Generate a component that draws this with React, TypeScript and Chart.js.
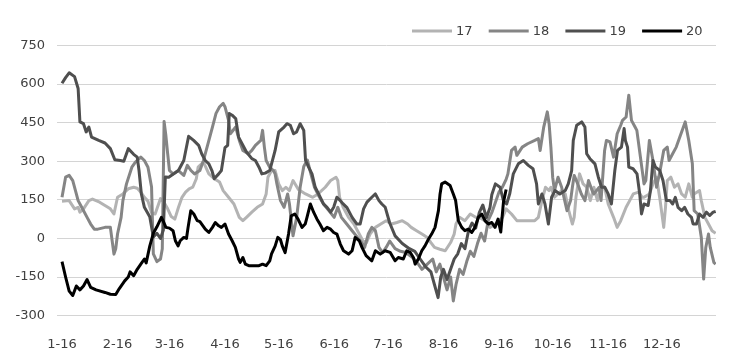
import React, { useEffect, useRef } from 'react';
import { Chart, registerables } from 'chart.js';

Chart.register(...registerables);

const seriesNames = ['17', '18', '19', '20'];
const seriesColors = ['#b3b3b3', '#858585', '#4f4f4f', '#000000'];
const monthLabels = ['1-16', '2-16', '3-16', '4-16', '5-16', '6-16', '7-16', '8-16', '9-16', '10-16', '11-16', '12-16'];
const monthStartDays = [0, 31, 60, 91, 121, 152, 182, 213, 244, 274, 305, 335];
const yMin = -300;
const yMax = 750;
const yStep = 150;

// [day of year, value]
const s17: [number, number][] = [
  [0, 145], [4, 147], [7, 115], [9, 121], [10, 102], [12, 115], [15, 147], [17, 153], [21, 141], [24, 128],
  [27, 115], [29, 95], [31, 160], [34, 173], [35, 180], [37, 193], [40, 199], [42, 195], [44, 180], [46, 160],
  [48, 145], [50, 100], [52, 95], [55, 155], [57, 140], [59, 115], [61, 85], [63, 75], [65, 120], [67, 160],
  [69, 180], [71, 193], [73, 199], [75, 232], [76, 277], [79, 297], [82, 251], [85, 232], [88, 219], [90, 186],
  [93, 160], [96, 134], [99, 82], [101, 69], [103, 82], [106, 102], [109, 121], [112, 134], [114, 173], [115, 238],
  [117, 264], [119, 264], [121, 212], [123, 186], [125, 199], [127, 186], [129, 225], [132, 190], [136, 173], [140, 160],
  [143, 173], [147, 199], [150, 225], [153, 238], [154, 225], [155, 160], [157, 121], [160, 82], [163, 56], [166, 17],
  [168, -9], [170, -16], [172, 17], [175, 43], [178, 56], [181, 69], [184, 56], [187, 62], [190, 69], [193, 56],
  [195, 43], [198, 30], [201, 17], [204, 4], [206, -16], [208, -35], [211, -42], [214, -48], [217, -16], [219, 17],
  [220, 56], [222, 82], [225, 69], [228, 95], [231, 82], [233, 82], [236, 69], [239, 43], [242, 56], [246, 82],
  [248, 115], [251, 95], [254, 69], [257, 69], [260, 69], [264, 69], [266, 82], [268, 147], [270, 199], [272, 186],
  [273, 199], [275, 160], [277, 173], [279, 186], [281, 173], [283, 108], [285, 56], [286, 82], [287, 160], [289, 251],
  [291, 212], [293, 199], [295, 147], [297, 199], [299, 147], [301, 212], [303, 199], [305, 134], [308, 82], [310, 43],
  [312, 69], [315, 121], [317, 147], [319, 173], [322, 180], [324, 160], [325, 160], [328, 173], [330, 212], [332, 238],
  [334, 147], [336, 43], [337, 121], [338, 225], [340, 238], [342, 199], [344, 212], [346, 173], [348, 160], [350, 212],
  [352, 160], [353, 173], [356, 186], [357, 147], [359, 82], [361, 56], [363, 30], [365, 20],
];

const s18: [number, number][] = [
  [0, 160], [2, 238], [4, 245], [6, 225], [8, 173], [9, 147], [11, 121], [14, 82], [16, 56], [18, 36],
  [20, 36], [24, 43], [27, 43], [28, -9], [29, -61], [30, -40], [31, 17], [33, 82], [34, 147], [36, 212],
  [39, 277], [41, 297], [44, 316], [46, 303], [48, 277], [50, 200], [51, -60], [53, -90], [55, -80], [56, -40],
  [57, 455], [58, 400], [59, 330], [60, 264], [62, 251], [65, 264], [68, 245], [70, 284], [72, 264], [74, 251],
  [77, 264], [79, 303], [81, 355], [84, 433], [86, 486], [88, 512], [90, 525], [91, 512], [93, 459], [94, 407],
  [97, 433], [99, 381], [101, 342], [104, 329], [106, 342], [108, 362], [111, 381], [112, 420], [113, 355], [114, 303],
  [116, 277], [118, 264], [119, 251], [120, 212], [122, 147], [124, 121], [126, 173], [127, 134], [129, 10], [131, 80],
  [133, 200], [135, 280], [137, 305], [139, 250], [141, 199], [143, 170], [146, 134], [149, 108], [152, 82], [154, 121],
  [156, 82], [159, 56], [162, 30], [165, 4], [168, -22], [169, -35], [171, 17], [173, 43], [175, 30], [177, -35],
  [179, -55], [181, -35], [183, -10], [186, -40], [189, -50], [192, -55], [195, -70], [198, -90], [201, -120], [204, -100],
  [207, -80], [209, -130], [211, -100], [213, -150], [215, -200], [217, -150], [218.5, -243], [220, -180], [222, -120], [224, -140],
  [226, -90], [228, -50], [230, -70], [232, -20], [234, 20], [236, -10], [238, 70], [240, 100], [242, 140], [244, 180],
  [246, 200], [248, 230], [249, 251], [251, 342], [253, 355], [254, 323], [257, 355], [260, 368], [264, 381], [266, 388],
  [267, 342], [269, 433], [271, 492], [272, 446], [273, 355], [274, 238], [275, 186], [277, 238], [279, 199], [282, 108],
  [284, 147], [285, 199], [286, 245], [288, 212], [290, 173], [292, 147], [294, 225], [296, 186], [297, 173], [300, 199],
  [301, 147], [303, 342], [304, 381], [306, 375], [308, 316], [310, 407], [312, 440], [313, 459], [315, 472], [316.5, 557],
  [318, 459], [320, 433], [321, 420], [323, 316], [325, 212], [326, 225], [328, 381], [330, 303], [332, 199], [334, 264],
  [336, 342], [338, 355], [339, 303], [341, 329], [343, 355], [345, 394], [347, 433], [348, 453], [350, 381], [352, 290],
  [352.5, 199], [353, 108], [355, 95], [357, 4], [358.3, -158], [359.5, -35], [361, 17], [362, -35], [364, -93], [365, -100],
];

const s19: [number, number][] = [
  [0, 603], [2, 625], [4, 644], [7, 629], [9, 583], [10, 453], [12, 446], [13.5, 414], [15, 433], [16.5, 394],
  [20.5, 381], [24, 371], [27, 349], [29.5, 306], [32.6, 303], [34.5, 300], [37, 349], [40, 327], [42, 316], [43, 264],
  [44.3, 173], [46, 121], [49, 84], [51, 6], [53, 20], [55, 0], [56.6, 33], [57.7, 239], [59.6, 238], [62.4, 251],
  [65, 264], [68, 303], [70.7, 397], [73.5, 381], [76.3, 362], [78, 329], [80, 303], [82, 290], [83.7, 264], [85, 232],
  [87.5, 251], [89, 264], [91, 353], [92.5, 362], [93.4, 486], [95, 479], [97, 466], [98.6, 394], [101, 362], [103, 336],
  [106, 310], [108, 303], [110, 277], [111.6, 251], [113.5, 254], [116, 264], [119, 342], [121, 414], [124, 433], [125.6, 446],
  [127.5, 440], [129.3, 407], [131, 414], [133, 446], [135, 420], [136, 303], [137.7, 277], [139.6, 251], [141.4, 199], [143.3, 173],
  [146, 134], [148, 121], [150, 102], [151.7, 121], [153.5, 160], [155.4, 147], [157, 134], [159, 121], [162, 82], [164.7, 56],
  [166.5, 56], [168.4, 115], [170.3, 141], [173, 160], [175, 173], [177, 147], [178.6, 134], [180.5, 121], [183, 60], [186, 10],
  [190, -20], [194, -40], [197, -50], [200, -80], [203, -110], [206, -130], [208, -180], [210, -230], [211.5, -150], [213, -120],
  [215, -160], [217, -120], [219, -80], [221, -60], [223, -20], [225, -40], [227, 30], [229, 60], [231, 40], [233, 100],
  [235, 130], [237, 80], [239, 120], [240, 170], [242, 212], [244.6, 199], [246.5, 147], [248.3, 134], [250, 173], [252, 251],
  [254.8, 290], [257.6, 303], [260.4, 284], [263, 271], [265, 212], [266, 134], [268, 173], [269.7, 134], [271.6, 56], [273.4, 160],
  [275.3, 186], [278, 173], [281, 186], [282.7, 212], [284.6, 264], [285.5, 381], [287.4, 440], [290.2, 453], [292, 433], [293, 329],
  [294.8, 310], [297.6, 290], [299.5, 238], [301.3, 199], [303.1, 199], [305, 173], [306.8, 134], [308.7, 264], [310.2, 342], [312.4, 355],
  [313.9, 427], [314.6, 381], [315.8, 355], [316.5, 277], [318.9, 271], [321.1, 251], [322.6, 173], [323.6, 95], [325, 134], [327.3, 128],
  [328.6, 186], [330, 303], [331.4, 277], [333.8, 264], [335.6, 225], [337.5, 147], [339.5, 147], [341, 134], [342.5, 160], [344, 121],
  [346, 108], [347.7, 121], [349.5, 95], [351.5, 82], [352.4, 56], [354.3, 56], [356, 95], [358, 82], [359.8, 102], [361.7, 89],
  [363.6, 102], [365, 105],
];

const s20: [number, number][] = [
  [0, -90], [2, -150], [4, -205], [6, -222], [8, -185], [10, -200], [12, -185], [14, -160], [16, -190], [19, -200],
  [24, -210], [27, -217], [30, -218], [32, -195], [35, -165], [37, -150], [38, -130], [40, -145], [42, -120], [44, -100],
  [46, -80], [47, -95], [49, -30], [51, 20], [53, 45], [55.5, 82], [57, 60], [58, 43], [60, 40], [62, 30],
  [63.3, -9], [64.8, -29], [66, -9], [68, 4], [69.5, 0], [70.4, 43], [71.9, 108], [73.6, 95], [75.5, 69], [77, 65],
  [80, 36], [82, 23], [84, 43], [85.6, 62], [87.5, 49], [89, 43], [91, 56], [93, 17], [95, -9], [96.8, -35],
  [98.6, -80], [99.5, -93], [101, -74], [102.4, -100], [104.3, -106], [107, -106], [110, -106], [112, -100], [114, -106], [116, -87],
  [117, -60], [119, -30], [120.5, 4], [122, -5], [123, -29], [124.6, -55], [126.5, 17], [128, 88], [130, 95], [131.8, 75],
  [134, 43], [135.8, 56], [136.8, 82], [138.7, 134], [140.5, 102], [142.4, 75], [144, 56], [146, 30], [148, 43], [150, 36],
  [151.7, 23], [153.5, 17], [155.4, -22], [157.2, -48], [160, -61], [162, -48], [163.7, 4], [166, -9], [167.5, -35], [169.8, -67],
  [173, -87], [175, -48], [177.7, -61], [180.4, -48], [183.2, -54], [186, -87], [187.8, -74], [190.6, -80], [192.5, -48], [194.4, -54],
  [196.2, -74], [197.2, -100], [199, -80], [200.9, -48], [202.7, -29], [204.6, -3], [206.4, 17], [208.3, 43], [210.2, 108], [211.1, 173],
  [212, 212], [213.9, 219], [216.7, 206], [218.5, 173], [219.8, 147], [221.3, 69], [223.2, 43], [225, 30], [226.9, 36], [228.8, 23],
  [230.6, 43], [232.5, 82], [234.4, 95], [236.2, 69], [238.1, 56], [240, 62], [241.8, 43], [243.5, 75], [245, 25], [246.5, 140],
  [248, 190],
];

const allSeries = [s17, s18, s19, s20];

const FONT = '"DejaVu Sans", sans-serif';
const TEXT_COLOR = '#404040';

const legendPlugin = {
  id: 'lineLegend',
  afterDraw(chart: any) {
    const ctx = chart.ctx;
    ctx.save();
    chart.data.datasets.forEach((ds: any, i: number) => {
      const x0 = 412 + i * 76.7;
      const y = 31;
      ctx.strokeStyle = ds.borderColor;
      ctx.lineWidth = 3;
      ctx.beginPath();
      ctx.moveTo(x0, y);
      ctx.lineTo(x0 + 40, y);
      ctx.stroke();
      ctx.fillStyle = TEXT_COLOR;
      ctx.font = `13px ${FONT}`;
      ctx.textAlign = 'left';
      ctx.textBaseline = 'middle';
      ctx.fillText(ds.label, x0 + 44, y + 1);
    });
    ctx.restore();
  },
};

export default function App() {
  const canvasRef = useRef<HTMLCanvasElement | null>(null);

  useEffect(() => {
    if (!canvasRef.current) return;
    const chart = new Chart(canvasRef.current, {
      type: 'line',
      data: {
        datasets: allSeries.map((s, i) => ({
          label: seriesNames[i],
          data: s.map(([x, y]) => ({ x, y })),
          borderColor: seriesColors[i],
          backgroundColor: seriesColors[i],
          borderWidth: 3,
          pointRadius: 0,
          tension: 0,
          fill: false,
          borderJoinStyle: 'round' as const,
          order: 3 - i,
        })),
      },
      options: {
        animation: false,
        responsive: false,
        devicePixelRatio: 1,
        layout: { padding: { top: 45.5, right: 13, left: 0, bottom: 0 } },
        plugins: {
          legend: { display: false },
          tooltip: { enabled: false },
        },
        scales: {
          x: {
            type: 'linear',
            min: -2.8,
            max: 365.2,
            grid: { display: false, drawTicks: false },
            border: { display: false },
            afterBuildTicks: (scale: any) => {
              scale.ticks = monthStartDays.map((v) => ({ value: v }));
            },
            afterFit: (scale: any) => {
              scale.height = 47.4;
            },
            ticks: {
              autoSkip: false,
              maxRotation: 0,
              padding: 21,
              color: TEXT_COLOR,
              font: { family: FONT, size: 13 },
              callback: (v: any) => {
                const i = monthStartDays.indexOf(Number(v));
                return i >= 0 ? monthLabels[i] : '';
              },
            },
          },
          y: {
            min: yMin,
            max: yMax,
            grid: { color: '#d4d4d4', lineWidth: 1, drawTicks: false },
            border: { display: false },
            afterFit: (scale: any) => {
              scale.width = 57;
            },
            ticks: {
              stepSize: yStep,
              padding: 12,
              color: TEXT_COLOR,
              font: { family: FONT, size: 13 },
            },
          },
        },
      },
      plugins: [legendPlugin],
    });
    return () => chart.destroy();
  }, []);

  return (
    <div style={{ position: 'fixed', left: 0, top: 0, width: 729, height: 363, background: '#ffffff' }}>
      <canvas ref={canvasRef} width={729} height={363} style={{ display: 'block' }} />
    </div>
  );
}
